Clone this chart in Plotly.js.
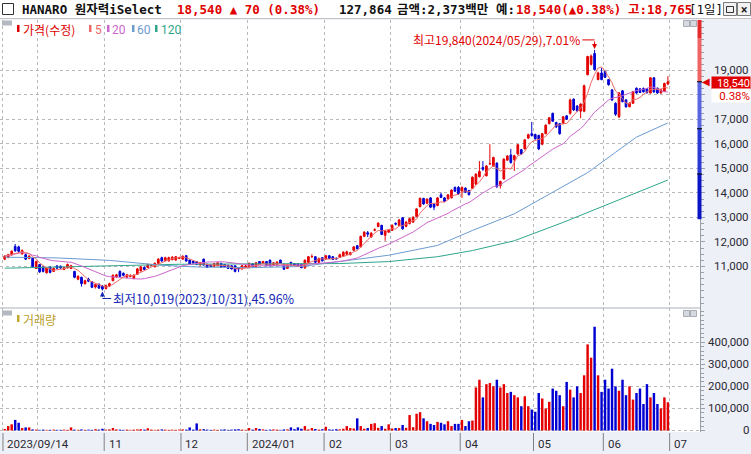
<!DOCTYPE html>
<html><head><meta charset="utf-8">
<script src="https://cdn.plot.ly/plotly-3.0.1.min.js"></script>
<style>html,body{margin:0;padding:0;background:#fff;}#chart{width:751px;height:454px;}</style>
</head><body><div id="chart"></div>
<script>
// ---------------- DATA ----------------
const stockName = 'HANARO 원자력iSelect';
const holidays = ['2023-09-28','2023-09-29','2023-10-02','2023-10-03','2023-10-09','2023-12-25','2023-12-29',
  '2024-01-01','2024-02-09','2024-02-12','2024-03-01','2024-04-10','2024-05-01','2024-05-06','2024-05-15','2024-06-06'];
const firstDay = '2023-09-14', lastDay = '2024-06-28';

const openP = [
 11300,11380,11470,11820,11800,11520,11480,11330,11340,10920,11080,10980,10740,10980,10800,11020,11010,10880,10940,10920,10800,10480,10560,10300,10480,10380,10160,10280,10200,
 10100,10200,10420,10580,10800,10720,10560,10600,10520,10680,10820,10960,10960,11050,10990,11130,11360,11250,11230,11280,11260,11330,
 11300,11440,11260,11220,11200,11060,11300,11090,11060,11000,11040,11130,11080,11050,11030,11030,10960,10900,10970,
 10950,11110,11000,11200,11130,11200,11260,11050,11090,11260,11090,10920,11170,11120,11120,11090,10950,11170,11390,11400,11170,11360,
 11300,11440,11400,11340,11370,11420,11500,11480,11660,11850,11800,12230,12380,12200,12480,12630,12680,12270,12400,
 12470,12760,12680,12990,12640,12750,12810,13040,13440,13780,13580,13800,13550,13490,13930,13800,13760,13800,14230,14230,
 14070,14200,14100,14190,14360,14660,15040,14700,15180,15100,15220,14300,14570,15340,15550,15360,15590,15770,15800,16240,16420,
 16390,16350,15990,16420,16830,17250,16880,16830,16830,17150,17250,17830,17550,17340,17340,18830,19250,19690,18630,18900,
 18970,18630,18210,17660,17110,18170,17800,17520,17660,18280,18250,18270,18250,18080,18700,18280,18080,18140,18450];
const highP = [
 11460,11520,11660,11920,11850,11700,11520,11460,11360,11240,11100,11000,10980,11000,10960,11060,11040,10990,11120,11070,10820,10640,10580,10460,10540,10400,10300,10300,10240,
 10260,10340,10680,10700,10840,10760,10700,10680,10680,10940,11020,11000,11120,11100,11160,11340,11400,11400,11400,11420,11430,11400,
 11450,11470,11280,11240,11220,11190,11320,11110,11080,11140,11180,11150,11100,11070,11050,11040,10980,11050,11060,
 11160,11130,11180,11220,11230,11220,11280,11180,11210,11280,11110,11090,11190,11140,11140,11110,11280,11420,11500,11420,11360,11380,
 11470,11460,11420,11360,11520,11620,11640,11600,11830,11870,12260,12440,12450,12400,12560,12800,12700,12480,12520,
 12720,12800,12940,13020,12850,12990,13050,13380,13820,13800,13780,13830,13580,13830,14020,13830,13960,14150,14260,14280,
 14260,14230,14130,14680,14800,15300,15300,15140,15990,15480,15250,14500,15420,15540,15800,15560,16000,15800,16200,16420,16900,
 16420,16380,16450,16800,17100,17280,16900,16850,17140,17180,17850,17860,17580,17660,18420,19600,19650,19840,18950,19100,
 19000,18650,18230,17700,18120,18200,17830,17700,18170,18300,18280,18300,18280,18730,18730,18300,18240,18500,18765];
const lowP = [
 11260,11330,11450,11600,11580,11480,11260,11300,10960,10900,10740,10760,10720,10720,10780,10900,10900,10850,10920,10890,10520,10440,10180,10260,10360,10120,10100,10080,10019,
 10060,10160,10400,10540,10560,10600,10520,10560,10480,10660,10800,10840,10940,11020,10960,11100,11200,11220,11200,11250,11240,11300,
 11280,11200,11080,11100,11050,11040,11040,10940,10980,10980,11020,10940,10970,10900,10880,10760,10770,10880,10950,
 10930,10970,10980,11060,11110,11010,11000,11030,11070,11110,10860,10900,11040,11030,10980,10930,10900,11150,11380,11150,11150,11210,
 11280,11310,11270,11290,11350,11400,11480,11460,11640,11700,11780,12200,12200,12180,12440,12600,12280,12050,12380,
 12450,12680,12660,12500,12600,12720,12790,13020,13420,13520,13560,13380,13300,13460,13800,13640,13740,13780,14050,13930,
 13800,14000,13900,14170,14330,14640,14900,14680,15150,15080,14200,14180,14550,15320,15200,14900,15560,15560,15780,16200,16300,
 16180,15750,15950,16400,16800,16900,16650,16380,16800,16990,17200,17350,17300,17050,17300,18800,19200,19000,18600,18600,
 18700,18380,17750,17150,17060,17700,17480,17500,17640,18050,18080,18100,18050,18060,18100,18050,18060,18120,18400];
const closeP = [
 11420,11480,11620,11640,11620,11650,11300,11420,11000,11200,10780,10800,10940,10760,10920,10930,10940,10960,11080,11030,10560,10600,10300,10420,10400,10150,10260,10120,10080,
 10220,10300,10640,10660,10600,10640,10660,10620,10640,10900,10980,10880,11080,11060,11130,11300,11220,11360,11360,11380,11400,11360,
 11420,11220,11100,11140,11080,11160,11060,10960,11000,11120,11150,10960,10990,10920,10900,10800,10900,11030,11020,
 11130,10990,11150,11080,11200,11040,11030,11150,11180,11130,10890,11060,11060,11050,11000,10950,11260,11400,11400,11170,11330,11230,
 11440,11330,11290,11310,11480,11580,11600,11560,11800,11720,12230,12400,12320,12360,12500,12770,12310,12450,12480,
 12680,12730,12900,12540,12810,12950,13010,13350,13780,13550,13750,13420,13420,13800,13820,13660,13920,14120,14070,13960,
 14230,14030,13930,14640,14770,14880,14970,15100,15200,15450,14260,14470,15380,15510,15240,15520,15970,15590,16170,16380,16350,
 16210,15800,16420,16770,17070,16930,16700,16420,17110,17010,17800,17390,17360,17630,18380,19570,19590,19040,18900,18630,
 18720,18420,17800,17210,18080,17730,17520,17660,18140,18080,18100,18130,18100,18700,18120,18080,18210,18470,18540];
const volume = [
 7000,20000,28000,48000,35000,11000,14000,14000,5000,4000,3000,4000,3000,3000,4000,3000,3000,4000,3000,14000,4000,3000,5000,3000,4000,3000,6000,4000,8000,
 4000,5000,11000,5000,4000,3000,4000,3000,4000,5000,6000,4000,10000,4000,3000,4000,5000,4000,3000,4000,3000,4000,
 5000,4000,14000,4000,32000,5000,6000,4000,3000,4000,3000,4000,5000,3000,4000,5000,6000,4000,3000,
 11000,4000,11000,7000,5000,3000,4000,5000,4000,3000,5000,5000,14000,6000,14000,8000,20000,5000,11000,7000,4000,6000,
 17000,5000,4000,6000,5000,8000,20000,11000,9000,55000,20000,8000,11000,30000,33000,12000,20000,8000,28000,
 9000,11000,11000,25000,12000,70000,15000,76000,83000,55000,42000,30000,25000,39000,35000,28000,42000,20000,30000,30000,
 48000,20000,42000,45000,195000,230000,150000,210000,215000,200000,230000,195000,210000,170000,175000,160000,150000,110000,155000,110000,95000,
 85000,170000,145000,100000,130000,190000,180000,160000,110000,220000,185000,150000,200000,170000,250000,390000,330000,470000,250000,175000,
 230000,190000,280000,200000,180000,230000,160000,200000,140000,170000,190000,120000,210000,150000,170000,120000,100000,150000,127864];
const amountMillion = 2373;

// moving averages 60/120 (index of trading day, value)
const ma60Idx = [0,15,30,45,55,70,85,96,110,124,134,146,159,167,175,181,190];
const ma60Val = [11380,11350,11250,11050,10980,10950,11000,11200,11460,11860,12470,13150,14210,14830,15660,16280,16860];
const ma120Idx = [0,25,50,75,96,110,124,134,146,160,172,180,190];
const ma120Val = [10930,11000,11090,11110,11120,11200,11400,11650,12050,12800,13500,13950,14530];

const priceTicks = [11000,12000,13000,14000,15000,16000,17000,18000,19000];
const volTicks = [0,100000,200000,300000,400000];

// ---------------- BUILD ----------------
const dates = [];
for (let d = new Date(firstDay + 'T00:00:00Z'); d <= new Date(lastDay + 'T00:00:00Z'); d.setUTCDate(d.getUTCDate() + 1)) {
  const wd = d.getUTCDay(); const s = d.toISOString().slice(0, 10);
  if (wd === 0 || wd === 6 || holidays.includes(s)) continue;
  dates.push(s);
}
const n = closeP.length;
const idx = closeP.map((_, i) => i);
function sma(a, w) { return a.map((_, i) => { const s = Math.max(0, i - w + 1); let t = 0; for (let k = s; k <= i; k++) t += a[k]; return t / (i - s + 1); }); }
const ma5 = sma(closeP, 5), ma20 = sma(closeP, 20);
const fmt = v => Math.round(v).toLocaleString('en-US');

const RED = '#e40000', BLUE = '#0000d2';
const volColors = idx.map(i => closeP[i] >= openP[i] ? RED : BLUE);

// month boundaries
const bounds = [{b: -0.5, lab: dates[0].replace(/-/g, '/')}];
for (let i = 1; i < n; i++) {
  if (dates[i].slice(5, 7) !== dates[i - 1].slice(5, 7)) {
    const m = dates[i].slice(5, 7);
    bounds.push({b: i - 0.5, lab: m === '01' ? dates[i].slice(0, 4) + '/' + m : m});
  }
}
{ const m = (parseInt(lastDay.slice(5, 7)) % 12) + 1; bounds.push({b: n - 0.5, lab: String(m).padStart(2, '0')}); }

const cur = closeP[n - 1], prev = closeP[n - 2];
const chg = cur - prev, pct = (chg / prev * 100).toFixed(2);
let iMax = 0, iMin = 0;
for (let i = 0; i < n; i++) { if (highP[i] > highP[iMax]) iMax = i; if (lowP[i] < lowP[iMin]) iMin = i; }

// ---------------- LAYOUT HELPERS ----------------
const PW = 700, PH = 412, PB = 432;
const X = p => p / PW, Y = p => (PB - p) / PH;
const F_NUM = 'Roboto, "DejaVu Sans", sans-serif';
const F_KR = '"Noto Sans CJK KR", "Noto Sans", sans-serif';
const F_HDR = '"DejaVu Sans Mono", "Noto Sans CJK KR", monospace';
function ann(text, px, py, color, size, family, extra) {
  return Object.assign({text, x: X(px), y: Y(py), xref: 'paper', yref: 'paper', xanchor: 'left', yanchor: 'middle',
    showarrow: false, borderpad: 0, font: {family, size, color}}, extra || {});
}
function rect(x0, y0, x1, y1, fill, line) {
  return {type: 'rect', xref: 'paper', yref: 'paper', x0: X(x0), x1: X(x1), y0: Y(y0), y1: Y(y1),
    fillcolor: fill, line: {width: line ? 1 : 0, color: line || 'rgba(0,0,0,0)'}, layer: 'above'};
}
function hline(x0, x1, py, color) {
  return {type: 'line', xref: 'paper', yref: 'paper', x0: X(x0), x1: X(x1), y0: Y(py), y1: Y(py), line: {color, width: 1}, layer: 'above'};
}

// ---------------- TRACES ----------------
const traces = [
  {type: 'candlestick', x: idx, open: openP, high: highP, low: lowP, close: closeP, xaxis: 'x', yaxis: 'y',
   increasing: {line: {color: RED, width: 1}, fillcolor: RED}, decreasing: {line: {color: BLUE, width: 1}, fillcolor: BLUE},
   whiskerwidth: 0, hoverinfo: 'skip', showlegend: false},
  {type: 'scatter', mode: 'lines', x: ma120Idx, y: ma120Val, line: {color: '#2fa68c', width: 1}, xaxis: 'x', yaxis: 'y', hoverinfo: 'skip', showlegend: false},
  {type: 'scatter', mode: 'lines', x: ma60Idx, y: ma60Val, line: {color: '#6b9bd0', width: 1}, xaxis: 'x', yaxis: 'y', hoverinfo: 'skip', showlegend: false},
  {type: 'scatter', mode: 'lines', x: idx, y: ma20, line: {color: '#cc66cc', width: 1}, xaxis: 'x', yaxis: 'y', hoverinfo: 'skip', showlegend: false},
  {type: 'scatter', mode: 'lines', x: idx, y: ma5, line: {color: '#ee6a6a', width: 1}, xaxis: 'x', yaxis: 'y', hoverinfo: 'skip', showlegend: false},
  {type: 'bar', x: idx, y: volume, marker: {color: volColors, line: {width: 0}}, width: 0.7, xaxis: 'x', yaxis: 'y2', hoverinfo: 'skip', showlegend: false}
];

// ---------------- SHAPES / ANNOTATIONS ----------------
const shapes = [], anns = [];
const grid = '#b9b9b9', axc = '#9aa0aa';
// header
shapes.push(rect(0, 0, 751, 18.5, '#ffffff'));
shapes.push(hline(0, 751, 18.5, '#c4c4c4'));
shapes.push(rect(2.5, 3.5, 13.5, 14.5, '#ffffff', '#333333'));
anns.push(ann('<b>' + stockName + '</b>', 21, 9.5, '#111111', 12.5, F_HDR));
anns.push(ann('<b>' + fmt(cur) + ' ' + (chg >= 0 ? '▲' : '▼') + ' ' + fmt(Math.abs(chg)) + ' (' + pct + '%)</b>', 176, 9.5, '#e00000', 12.5, F_HDR));
anns.push(ann('<b>' + fmt(volume[n - 1]) + '</b>', 338, 9.5, '#111111', 12.5, F_HDR));
anns.push(ann('<b>금액:' + fmt(amountMillion) + '백만</b>', 396, 9.5, '#111111', 12.5, F_HDR));
anns.push(ann('<b>예:</b>', 495, 9.5, '#111111', 12.5, F_HDR));
anns.push(ann('<b>' + fmt(cur) + '(▲' + pct + '%)</b>', 515, 9.5, '#e00000', 12.5, F_HDR));
anns.push(ann('<b>고:' + fmt(highP[n - 1]) + '</b>', 627, 9.5, '#e00000', 12.5, F_HDR));
anns.push(ann('[1일]', 688, 9.5, '#111111', 12.5, F_HDR));
shapes.push(rect(723.5, 2.5, 736.5, 15.5, '#f2f2f2', '#7a7a7a'));
shapes.push(rect(726.5, 6.5, 733.5, 12.5, '#f2f2f2', '#333333'));
shapes.push(rect(737.5, 2.5, 750.5, 15.5, '#f2f2f2', '#7a7a7a'));
anns.push(ann('<b>×</b>', 739.5, 9.5, '#222222', 12, F_NUM));

// panel separator
shapes.push(hline(0, 700, 308, '#a8aeb8'));
// legend price
shapes.push(rect(2, 20.5, 12, 25.5, '#b4b8c0'));
shapes.push(rect(17, 25, 19.5, 32, '#e00000'));
anns.push(ann('가격(수정)', 22, 29.5, '#e00000', 12, F_KR));
const leg = [[89, 94, '5', '#ee6a6a'], [107, 111, '20', '#cc66cc'], [132, 136, '60', '#6b9bd0'], [155, 160, '120', '#2fa68c']];
leg.forEach(l => { shapes.push(rect(l[0], 25, l[0] + 2.5, 32, l[3])); anns.push(ann(l[2], l[1], 29.5, l[3], 12, F_NUM)); });
// legend volume
shapes.push(rect(2, 310.5, 12, 315.5, '#b4b8c0'));
shapes.push(rect(17, 315, 19.5, 322, '#c2a92e'));
anns.push(ann('거래량', 22, 319, '#b9a12a', 12, F_KR));
// panel buttons
[[20.5], [310.5]].forEach(p => {
  shapes.push(rect(683.5, p[0], 689.5, p[0] + 6, '#d6d9e0', '#a8acb4'));
  shapes.push(rect(690.5, p[0], 696.5, p[0] + 6, '#d6d9e0', '#a8acb4'));
});

// price band on the axis (±30% limits of previous close)
const yTop = 21061;
const up = prev * 1.3, dn = prev * 0.7;
const u1 = prev + (up - prev) / 3, d1 = prev - (prev - dn) / 3, d2 = prev - 2 * (prev - dn) / 3;
function band(y0, y1, col) { return {type: 'rect', xref: 'paper', yref: 'y', x0: X(697.5), x1: X(701.5), y0, y1: Math.min(y1, yTop), fillcolor: col, line: {width: 0}, layer: 'above'}; }
shapes.push(band(cur, u1, '#ee6464'));
shapes.push(band(u1, up, '#e42a2a'));
shapes.push(band(d1, cur, '#5a66e0'));
shapes.push(band(d2, d1, '#2b39d4'));
shapes.push(band(dn, d2, '#0a14c4'));
[cur, d1, d2].forEach(v => shapes.push({type: 'line', xref: 'paper', yref: 'y', x0: X(697), x1: X(702), y0: v, y1: v, line: {color: '#000000', width: 1}, layer: 'above'}));

// price tick labels (skip the one hidden by the current-price box)
priceTicks.forEach(v => {
  const hidden = (v <= cur && cur - v < 800) || (v > cur && v - cur < 250);
  if (!hidden) anns.push({text: fmt(v), x: X(751), xref: 'paper', xanchor: 'right', y: v, yref: 'y', yanchor: 'middle', showarrow: false, font: {family: F_NUM, size: 11.5, color: '#2a2a33'}});
});
volTicks.forEach(v => anns.push({text: fmt(v), x: X(751), xref: 'paper', xanchor: 'right', y: v, yref: 'y2', yanchor: 'middle', showarrow: false, font: {family: F_NUM, size: 11.5, color: '#2a2a33'}}));
// current price marker
anns.push({text: '◀', x: X(699.5), xref: 'paper', xanchor: 'left', y: cur, yref: 'y', yanchor: 'middle', showarrow: false, font: {family: '"DejaVu Sans", sans-serif', size: 10, color: '#e00000'}});
anns.push({text: fmt(cur), x: X(751), xref: 'paper', xanchor: 'right', y: cur, yref: 'y', yanchor: 'middle', yshift: -1, showarrow: false, bgcolor: '#e00000', borderpad: 0, width: 38, height: 12, align: 'right', valign: 'middle', font: {family: F_NUM, size: 11, color: '#ffffff'}});
anns.push({text: pct + '%', x: X(751), xref: 'paper', xanchor: 'right', y: cur, yref: 'y', yanchor: 'middle', yshift: -14, showarrow: false, bgcolor: '#ffffff', borderpad: 0, width: 38, height: 13, align: 'right', valign: 'middle', font: {family: F_NUM, size: 11.5, color: '#e00000'}});

// max / min annotations
const maxTxt = '최고' + fmt(highP[iMax]) + '(' + dates[iMax].replace(/-/g, '/') + '),' + ((highP[iMax] - cur) / cur * 100).toFixed(2) + '%';
const minTxt = '최저' + fmt(lowP[iMin]) + '(' + dates[iMin].replace(/-/g, '/') + '),' + ((cur - lowP[iMin]) / cur * 100).toFixed(2) + '%';
anns.push({text: maxTxt, x: iMax - 3.5, xref: 'x', y: highP[iMax], yref: 'y', yshift: 10, xanchor: 'right', yanchor: 'middle', showarrow: false, font: {family: F_KR, size: 12, color: '#e00000'}});
shapes.push({type: 'line', xref: 'x', x0: iMax - 3.5, x1: iMax, yref: 'y', ysizemode: 'pixel', yanchor: highP[iMax], y0: 10, y1: 10, line: {color: '#e00000', width: 1}});
anns.push({text: '', x: iMax, y: highP[iMax], xref: 'x', yref: 'y', showarrow: true, ax: 0, ay: -10, arrowhead: 2, arrowsize: 1, arrowwidth: 1, arrowcolor: '#e00000', standoff: 1});
anns.push({text: minTxt, x: iMin + 2.5, xref: 'x', y: lowP[iMin], yref: 'y', yshift: -8, xanchor: 'left', yanchor: 'middle', showarrow: false, font: {family: F_KR, size: 12.5, color: '#1428b4'}});
shapes.push({type: 'line', xref: 'x', x0: iMin, x1: iMin + 2.5, yref: 'y', ysizemode: 'pixel', yanchor: lowP[iMin], y0: -8, y1: -8, line: {color: '#1428b4', width: 1}});
anns.push({text: '', x: iMin, y: lowP[iMin], xref: 'x', yref: 'y', showarrow: true, ax: 0, ay: 8, arrowhead: 2, arrowsize: 1, arrowwidth: 1, arrowcolor: '#1428b4', standoff: 1});

// x labels & separators in bottom strip
let lastLab = -100;
bounds.forEach((o, k) => {
  if (k === 0 || o.b - lastLab > 18) {
    anns.push({text: o.lab, x: o.b + 0.7, xref: 'x', xanchor: 'left', y: Y(444), yref: 'paper', yanchor: 'middle', showarrow: false, font: {family: F_NUM, size: 11.5, color: '#2a2a33'}});
    shapes.push({type: 'line', xref: 'x', yref: 'paper', x0: o.b, x1: o.b, y0: Y(433), y1: Y(451), line: {color: '#808080', width: 1}});
    lastLab = o.b;
  }
});

const layout = {
  width: 751, height: 454,
  margin: {l: 0, r: 51, t: 20, b: 22, pad: 0},
  paper_bgcolor: '#eef0f7', plot_bgcolor: '#ffffff',
  showlegend: false, dragmode: false,
  xaxis: {domain: [0, 1], range: [-1.35, 199.2], anchor: 'y2', tickmode: 'array', tickvals: bounds.map(o => o.b),
    showticklabels: false, ticks: '', showgrid: true, gridcolor: grid, griddash: 'dot', gridwidth: 1, zeroline: false, showline: false,
    rangeslider: {visible: false}, fixedrange: true},
  yaxis: {domain: [0.3010, 1], range: [9306, yTop], side: 'right', anchor: 'x', tickmode: 'array', tickvals: priceTicks,
    showticklabels: false, showgrid: true, gridcolor: grid, griddash: 'dot', zeroline: false, showline: true, linecolor: axc,
    ticks: 'outside', ticklen: 4, tickcolor: axc, minor: {ticks: 'outside', ticklen: 3, tickcolor: axc, tickmode: 'linear', tick0: 0, dtick: 250, showgrid: false}, fixedrange: true},
  yaxis2: {domain: [0, 0.3010], range: [-6800, 555000], side: 'right', anchor: 'x', tickmode: 'array', tickvals: volTicks,
    showticklabels: false, showgrid: true, gridcolor: grid, griddash: 'dot', zeroline: false, showline: true, linecolor: axc,
    ticks: 'outside', ticklen: 4, tickcolor: axc, minor: {ticks: 'outside', ticklen: 3, tickcolor: axc, tickmode: 'linear', tick0: 0, dtick: 20000, showgrid: false}, fixedrange: true},
  bargap: 0.3,
  shapes, annotations: anns
};
Plotly.newPlot('chart', traces, layout, {staticPlot: true, displayModeBar: false});
</script></body></html>
